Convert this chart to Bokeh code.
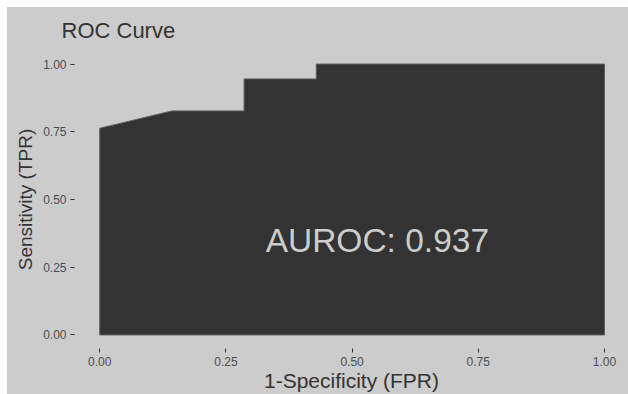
from bokeh.plotting import figure
from bokeh.models import FixedTicker, Label, Spacer
from bokeh.layouts import column, row
from bokeh.embed import file_html
from bokeh.resources import INLINE

# ROC curve points
fpr = [0.0, 0.0, 0.143, 0.286, 0.286, 0.429, 0.429, 1.0, 1.0]
tpr = [0.0, 0.763, 0.827, 0.827, 0.945, 0.945, 1.0, 1.0, 0.0]
auroc = 0.937
title = "ROC Curve"
tick_values = [0.0, 0.25, 0.5, 0.75, 1.0]
tick_labels = ["0.00", "0.25", "0.50", "0.75", "1.00"]

BG = "#cccccc"
FONT = "Liberation Sans"

p = figure(frame_width=554, frame_height=298,
           x_range=(-0.05, 1.0476), y_range=(-0.05, 1.05),
           output_backend="svg", toolbar_location=None,
           min_border_left=67, min_border_right=0,
           min_border_top=43, min_border_bottom=46)
p.styles = {"background-color": BG}

p.background_fill_color = BG
p.border_fill_color = BG
p.outline_line_color = None
p.grid.visible = False

p.patch(fpr, tpr, fill_color="#333333", line_color="#5e5e5e", line_width=1)

p.add_layout(Label(x=0.55, y=0.35, text=f"AUROC: {auroc}",
                   text_align="center", text_baseline="middle",
                   text_color="#cccccc", text_font=FONT,
                   text_font_size="33.5px"))

p.title.text = title
p.title.text_font = FONT
p.title.text_font_size = "22px"
p.title.text_font_style = "normal"
p.title.text_color = "#333333"
p.title.align = "left"
p.title.offset = -13
p.title.standoff = 15

overrides = {v: l for v, l in zip(tick_values, tick_labels)}
for ax in (p.xaxis[0], p.yaxis[0]):
    ax.ticker = FixedTicker(ticks=tick_values)
    ax.major_label_overrides = overrides
    ax.minor_tick_line_color = None
    ax.axis_line_color = None
    ax.major_tick_in = 0
    ax.major_tick_out = 4
    ax.major_tick_line_color = "#333333"
    ax.major_label_text_font = FONT
    ax.major_label_text_font_size = "12px"
    ax.major_label_text_color = "#4d4d4d"
    ax.axis_label_text_font = FONT
    ax.axis_label_text_font_style = "normal"
    ax.axis_label_text_color = "#333333"

p.xaxis.axis_label = "1-Specificity (FPR)"
p.yaxis.axis_label = "Sensitivity (TPR)"
p.xaxis.axis_label_text_font_size = "21px"
p.yaxis.axis_label_text_font_size = "19px"
p.xaxis.major_label_standoff = 4
p.xaxis.axis_label_standoff = 0
p.yaxis.major_label_standoff = 4
p.yaxis.axis_label_standoff = 4

layout = column(Spacer(height=7), row(Spacer(width=7), p))

open("out.html", "w").write(file_html(layout, INLINE))
